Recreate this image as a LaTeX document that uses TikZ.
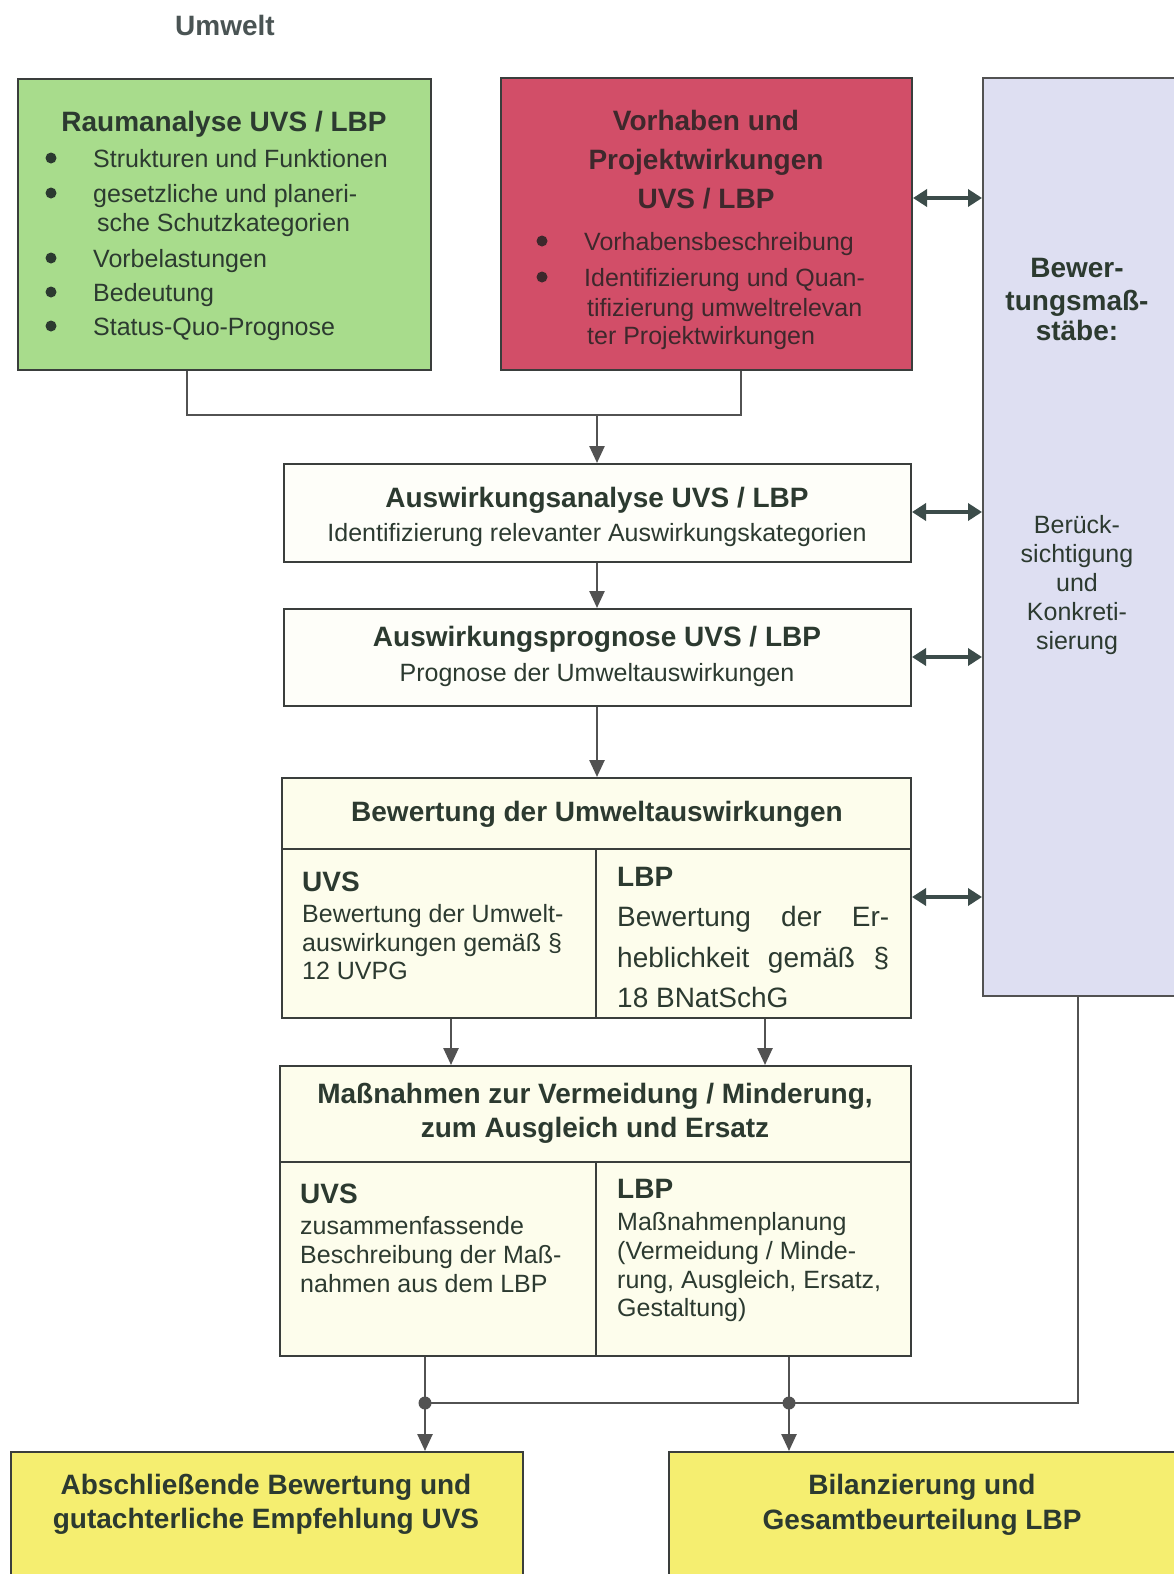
\documentclass[tikz,border=0pt]{standalone}
\usepackage{fontspec}
\setmainfont{Liberation Sans}
\usetikzlibrary{arrows.meta}
\definecolor{txtc}{RGB}{44,58,48}
\definecolor{redtxt}{RGB}{62,40,44}
\definecolor{greenf}{RGB}{168,220,140}
\definecolor{redf}{RGB}{210,78,104}
\definecolor{lavf}{RGB}{222,223,242}
\definecolor{yelf}{RGB}{245,238,112}
\definecolor{palef}{RGB}{253,253,236}
\definecolor{whitef}{RGB}{254,254,249}
\definecolor{linec}{RGB}{82,82,82}
\definecolor{borderc}{RGB}{58,62,60}
\definecolor{dblc}{RGB}{60,76,74}
\definecolor{umc}{RGB}{74,84,84}
\tikzset{
  boxst/.style={draw=borderc, line width=2pt, inner sep=0pt, anchor=north west},
  tx/.style={font=\fontsize{25}{30}\selectfont, text=txtc, inner sep=0pt, anchor=base west},
  txc/.style={tx, anchor=base},
  tl/.style={font=\fontsize{28}{34}\selectfont, text=txtc, inner sep=0pt, anchor=base west},
  tb/.style={font=\bfseries\fontsize{28}{34}\selectfont, text=txtc, inner sep=0pt, anchor=base},
  tbw/.style={tb, anchor=base west},
  bul/.style={circle, fill=txtc, inner sep=0pt, minimum size=11pt},
  conn/.style={draw=linec, line width=2.5pt},
  arr/.style={conn, -{Triangle[length=17pt,width=15pt]}},
  dbl/.style={draw=dblc, line width=3.5pt, {Triangle[length=14pt,width=17pt]}-{Triangle[length=14pt,width=17pt]}},
  jdot/.style={circle, fill=linec, inner sep=0pt, minimum size=13pt}
}
\begin{document}
\begin{tikzpicture}[x=1pt,y=-1pt]
\useasboundingbox (0,0) rectangle (1174,1574);
\fill[white] (0,0) rectangle (1174,1574);

% title
\node[tb, text=umc] (umwelt) at (225,35) {Umwelt};

% boxes
\node[boxst, fill=greenf, minimum width=413pt, minimum height=291pt] (green) at (17,78) {};
\node[boxst, fill=redf, minimum width=411pt, minimum height=292pt] (red) at (500,77) {};
\node[boxst, draw=linec, line width=1.5pt, fill=lavf, minimum width=196pt, minimum height=918pt] (lav) at (982,77) {};
\node[boxst, fill=whitef, minimum width=627pt, minimum height=98pt] (ana) at (283,463) {};
\node[boxst, fill=whitef, minimum width=627pt, minimum height=97pt] (pro) at (283,608) {};
\node[boxst, fill=palef, minimum width=629pt, minimum height=240pt] (bew) at (281,777) {};
\node[boxst, fill=palef, minimum width=631pt, minimum height=290pt] (mas) at (279,1065) {};
\node[boxst, fill=yelf, minimum width=512pt, minimum height=140pt] (bl) at (10,1451) {};
\node[boxst, fill=yelf, minimum width=520pt, minimum height=140pt] (br) at (668,1451) {};

% inner divisions
\draw[draw=borderc, line width=2pt] (bew.west |- 0,849) -- (bew.east |- 0,849);
\draw[draw=borderc, line width=2pt] (596,849) -- (bew.south -| 596,0);
\draw[draw=borderc, line width=2pt] (mas.west |- 0,1162) -- (mas.east |- 0,1162);
\draw[draw=borderc, line width=2pt] (596,1162) -- (mas.south -| 596,0);

% green box text
\node[tb] (g0) at (224,131) {Raumanalyse UVS / LBP};
\node[bul] (gb1) at (51,158) {};
\node[tx] (g1) at (93,167) {Strukturen und Funktionen};
\node[bul] (gb2) at (51,193) {};
\node[tx] (g2) at (93,202) {gesetzliche und planeri-};
\node[tx] (g3) at (97,231) {sche Schutzkategorien};
\node[bul] (gb4) at (51,258) {};
\node[tx] (g4) at (93,267) {Vorbelastungen};
\node[bul] (gb5) at (51,292) {};
\node[tx] (g5) at (93,301) {Bedeutung};
\node[bul] (gb6) at (51,326) {};
\node[tx] (g6) at (93,335) {Status-Quo-Prognose};

% red box text
\node[tb, text=redtxt] (r0) at (706,130) {Vorhaben und};
\node[tb, text=redtxt] (r1) at (706,169) {Projektwirkungen};
\node[tb, text=redtxt] (r2) at (706,208) {UVS / LBP};
\node[bul, fill=redtxt] (rb1) at (542,241) {};
\node[tx, text=redtxt] (r3) at (584,250) {Vorhabensbeschreibung};
\node[bul, fill=redtxt] (rb2) at (542,277) {};
\node[tx, text=redtxt] (r4) at (584,286) {Identifizierung und Quan-};
\node[tx, text=redtxt] (r5) at (587,316) {tifizierung umweltrelevan};
\node[tx, text=redtxt] (r6) at (587,344) {ter Projektwirkungen};

% lavender text
\node[tb] (l1) at (1077,277) {Bewer-};
\node[tb] (l2) at (1077,310) {tungsmaß-};
\node[tb] (l3) at (1077,340) {stäbe:};
\node[txc] (l4) at (1077,533) {Berück-};
\node[txc] (l5) at (1077,562) {sichtigung};
\node[txc] (l6) at (1077,591) {und};
\node[txc] (l7) at (1077,620) {Konkreti-};
\node[txc] (l8) at (1077,649) {sierung};

% Auswirkungsanalyse / -prognose
\node[tb] (a1) at (597,507) {Auswirkungsanalyse UVS / LBP};
\node[txc] (a2) at (597,541) {Identifizierung relevanter Auswirkungskategorien};
\node[tb] (p1) at (597,646) {Auswirkungsprognose UVS / LBP};
\node[txc] (p2) at (597,681) {Prognose der Umweltauswirkungen};

% Bewertung
\node[tb] (b0) at (597,821) {Bewertung der Umweltauswirkungen};
\node[tbw] (b1) at (302,891) {UVS};
\node[tx] (b2) at (302,922) {Bewertung der Umwelt-};
\node[tx] (b3) at (302,951) {auswirkungen gemäß §};
\node[tx] (b4) at (302,979) {12 UVPG};
\node[tbw] (b5) at (617,886) {LBP};
\node[tl] (b6) at (617,926) {\makebox[272pt][s]{Bewertung der Er-}};
\node[tl] (b7) at (617,967) {\makebox[272pt][s]{heblichkeit gemäß §}};
\node[tl] (b8) at (617,1007) {18 BNatSchG};

% Massnahmen
\node[tb] (m0) at (595,1103) {Maßnahmen zur Vermeidung / Minderung,};
\node[tb] (m1) at (595,1137) {zum Ausgleich und Ersatz};
\node[tbw] (m2) at (300,1203) {UVS};
\node[tx] (m3) at (300,1234) {zusammenfassende};
\node[tx] (m4) at (300,1263) {Beschreibung der Maß-};
\node[tx] (m5) at (300,1292) {nahmen aus dem LBP};
\node[tbw] (m6) at (617,1198) {LBP};
\node[tx] (m7) at (617,1230) {Maßnahmenplanung};
\node[tx] (m8) at (617,1259) {(Vermeidung / Minde-};
\node[tx] (m9) at (617,1288) {rung, Ausgleich, Ersatz,};
\node[tx] (m10) at (617,1316) {Gestaltung)};

% bottom boxes text
\node[tb] (bl1) at (266,1494) {Abschließende Bewertung und};
\node[tb] (bl2) at (266,1528) {gutachterliche Empfehlung UVS};
\node[tb] (br1) at (922,1494) {Bilanzierung und};
\node[tb] (br2) at (922,1529) {Gesamtbeurteilung LBP};

% connectors
\coordinate (jn) at (597,415);
\draw[conn] (green.south -| 187,0) |- (jn) -| (red.south -| 741,0);
\draw[arr] (jn) -- (ana.north -| jn);
\draw[arr] (ana.south -| 597,0) -- (pro.north -| 597,0);
\draw[arr] (pro.south -| 597,0) -- (bew.north -| 597,0);
\draw[arr] (bew.south -| 451,0) -- (mas.north -| 451,0);
\draw[arr] (bew.south -| 765,0) -- (mas.north -| 765,0);

\node[jdot] (d1) at (425,1403) {};
\node[jdot] (d2) at (789,1403) {};
\coordinate (lvx) at (1078,995);
\draw[conn] (mas.south -| d1) -- (d1.center);
\draw[conn] (mas.south -| d2) -- (d2.center);
\draw[conn] (lvx) |- (d1.center);
\draw[arr] (d1.center) -- (bl.north -| d1);
\draw[arr] (d2.center) -- (br.north -| d2);

% double arrows to the criteria column
\draw[dbl] (red.east |- 0,198) -- (lav.west |- 0,198);
\draw[dbl] (ana.east |- 0,512) -- (lav.west |- 0,512);
\draw[dbl] (pro.east |- 0,657) -- (lav.west |- 0,657);
\draw[dbl] (bew.east |- 0,897) -- (lav.west |- 0,897);
\end{tikzpicture}
\end{document}
